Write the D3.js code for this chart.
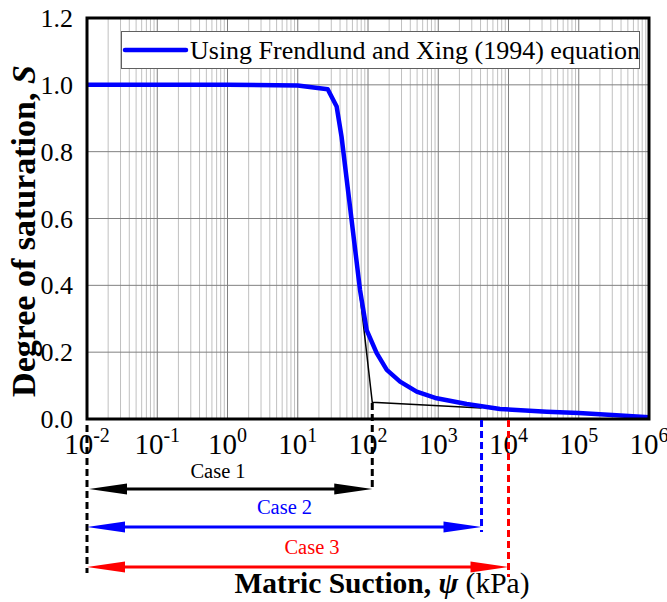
<!DOCTYPE html>
<html><head><meta charset="utf-8">
<script src="https://cdn.jsdelivr.net/npm/d3@7"></script>
<style>body{margin:0;background:#fff}svg{display:block}</style>
</head><body>
<svg id="c" width="667" height="602"></svg>
<script>
// ---- data ----
const suction    = [0.01, 0.1, 1, 10, 26.7, 35.8, 42, 54, 77, 95.7, 133, 185, 286, 493, 950, 2540, 7570, 35000, 100000, 300000, 1000000];
const saturation = [1.0, 1.0, 1.0, 0.998, 0.987, 0.935, 0.845, 0.655, 0.386, 0.266, 0.197, 0.147, 0.112, 0.082, 0.062, 0.045, 0.030, 0.022, 0.018, 0.012, 0.005];
const tangentSuction    = [54, 115, 4130];
const tangentSaturation = [0.655, 0.05, 0.033];
const caseNames  = ["Case 1", "Case 2", "Case 3"];
const caseMax    = [115, 4130, 10000];
const caseColors = ["#000000", "#0000ff", "#ff0000"];
const xTickExp   = [-2, -1, 0, 1, 2, 3, 4, 5, 6];
const yTicks     = [0, 0.2, 0.4, 0.6, 0.8, 1.0, 1.2];
const legendLabel = "Using Frendlund and Xing (1994) equation";

// ---- layout ----
const L = 87, R = 649, T = 18, B = 419;
const x = d3.scaleLog().domain([1e-2, 1e6]).range([L, R]);
const y = d3.scaleLinear().domain([0, 1.2]).range([B, T]);
const svg = d3.select("#c");
const serif = "'Liberation Serif','Times New Roman',serif";

// grid
const minor = [];
for (let e = -2; e < 6; e++) for (let k = 2; k <= 9; k++) minor.push(k * Math.pow(10, e));
const g = svg.append("g");
g.selectAll(".mn").data(minor).join("line")
  .attr("x1", d => x(d)).attr("x2", d => x(d)).attr("y1", T).attr("y2", B)
  .attr("stroke", "#c0c0c0").attr("stroke-width", 1);
g.selectAll(".mj").data(xTickExp).join("line")
  .attr("x1", d => x(Math.pow(10, d))).attr("x2", d => x(Math.pow(10, d))).attr("y1", T).attr("y2", B)
  .attr("stroke", "#808080").attr("stroke-width", 1);
g.selectAll(".hy").data(yTicks).join("line")
  .attr("x1", L).attr("x2", R).attr("y1", d => y(d)).attr("y2", d => y(d))
  .attr("stroke", "#808080").attr("stroke-width", 1);

// legend box
svg.append("rect").attr("x", 121.5).attr("y", 31.5).attr("width", 518).attr("height", 37)
  .attr("fill", "#fff").attr("stroke", "#606060").attr("stroke-width", 1);
svg.append("line").attr("x1", 125).attr("x2", 186).attr("y1", 50).attr("y2", 50)
  .attr("stroke", "#0000ff").attr("stroke-width", 4.5).attr("stroke-linecap", "round");
svg.append("text").attr("x", 190).attr("y", 59).attr("font-family", serif).attr("font-size", 26)
  .text(legendLabel);

// tangent line
const line = d3.line().x(d => x(d[0])).y(d => y(d[1]));
svg.append("path").datum(tangentSuction.map((s, i) => [s, tangentSaturation[i]]))
  .attr("d", line).attr("fill", "none").attr("stroke", "#000").attr("stroke-width", 1.5);

// SWCC curve
svg.append("path").datum(suction.map((s, i) => [s, saturation[i]]))
  .attr("d", line).attr("fill", "none").attr("stroke", "#0000ff").attr("stroke-width", 4.5)
  .attr("stroke-linejoin", "round");

// frame
svg.append("rect").attr("x", L).attr("y", T).attr("width", R - L).attr("height", B - T)
  .attr("fill", "none").attr("stroke", "#000").attr("stroke-width", 3);

// y tick labels
svg.selectAll(".yl").data(yTicks).join("text")
  .attr("x", 73).attr("y", d => y(d) + 9).attr("text-anchor", "end")
  .attr("font-family", serif).attr("font-size", 26).text(d => d.toFixed(1));

// x tick labels
const xl = svg.selectAll(".xl").data(xTickExp).join("text")
  .attr("x", d => x(Math.pow(10, d))).attr("y", 454).attr("text-anchor", "middle")
  .attr("font-family", serif).attr("font-size", 29);
xl.append("tspan").text("10");
xl.append("tspan").attr("dy", -12).attr("font-size", 20).text(d => d);

// y title
const yt = svg.append("text").attr("transform", "translate(35,231) rotate(-90)")
  .attr("text-anchor", "middle").attr("font-family", serif).attr("font-size", 34).attr("font-weight", "bold");
yt.append("tspan").text("Degree of saturation, ");
yt.append("tspan").attr("font-style", "italic").text("S");

// x title
const xt = svg.append("text").attr("x", 382).attr("y", 593).attr("text-anchor", "middle")
  .attr("font-family", serif).attr("font-size", 29.5);
xt.append("tspan").attr("font-weight", "bold").text("Matric Suction, ");
xt.append("tspan").attr("font-weight", "bold").attr("font-style", "italic").text("ψ");
xt.append("tspan").text(" (kPa)");

// case annotations
const arrowY = [489, 527, 567];
const dashTop = [403, 420, 420];
const dashBot = [490, 532, 577];
const labelX = [218, 284.5, 312];
const labelY = [478, 514, 554];
svg.append("line").attr("x1", x(1e-2)).attr("x2", x(1e-2)).attr("y1", 425).attr("y2", 573)
  .attr("stroke", "#000").attr("stroke-width", 3).attr("stroke-dasharray", "7,4");
caseNames.forEach((name, i) => {
  const xe = x(caseMax[i]), xs = x(1e-2) + (i === 0 ? 2 : 0), c = caseColors[i], yy = arrowY[i];
  svg.append("line").attr("x1", xe).attr("x2", xe).attr("y1", dashTop[i]).attr("y2", dashBot[i])
    .attr("stroke", c).attr("stroke-width", 3).attr("stroke-dasharray", "7,4");
  svg.append("line").attr("x1", xs + 20).attr("x2", xe - 20).attr("y1", yy).attr("y2", yy)
    .attr("stroke", c).attr("stroke-width", 3);
  const hl = 38, hw = 5.5;
  svg.append("path").attr("d", `M${xs},${yy} L${xs + hl},${yy - hw} L${xs + hl},${yy + hw} Z`).attr("fill", c);
  svg.append("path").attr("d", `M${xe},${yy} L${xe - hl},${yy - hw} L${xe - hl},${yy + hw} Z`).attr("fill", c);
  svg.append("text").attr("x", labelX[i]).attr("y", labelY[i]).attr("text-anchor", "middle")
    .attr("font-family", serif).attr("font-size", 20.5).attr("fill", c).text(name);
});
</script>
</body></html>
